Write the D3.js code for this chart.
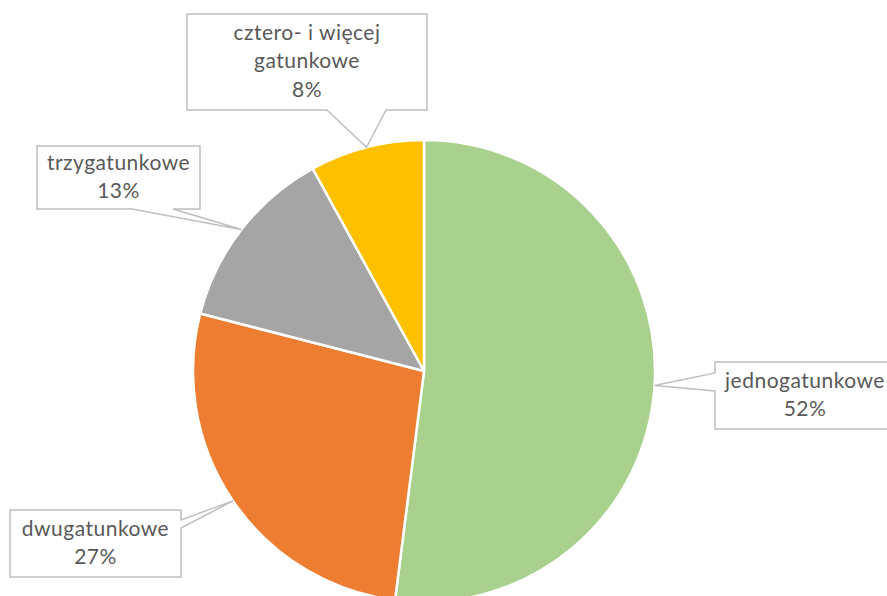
<!DOCTYPE html>
<html>
<head>
<meta charset="utf-8">
<script src="https://cdn.jsdelivr.net/npm/d3@7"></script>
<style>
  html, body { margin: 0; padding: 0; background: #fff; }
  svg { display: block; }
</style>
</head>
<body>
<svg id="chart" width="887" height="596"></svg>
<script>
// Share of stands by number of species
const categories = ["jednogatunkowe", "dwugatunkowe", "trzygatunkowe", "cztero- i więcej gatunkowe"];
const values = [52, 27, 13, 8];
const labelLines = [["jednogatunkowe"], ["dwugatunkowe"], ["trzygatunkowe"], ["cztero- i więcej", "gatunkowe"]];
const sliceColors = ["#a9d18e", "#ed7d31", "#a5a5a5", "#ffc000"];

// Callout boxes: box rectangle, the side the pointer leaves from and the pointer base span on that side
const callouts = [
  { x: 715, y: 362, w: 182, h: 67, side: "left", a: 373, b: 391 },
  { x: 10, y: 510, w: 171, h: 67, side: "right", a: 520, b: 528 },
  { x: 37, y: 146, w: 163, h: 63, side: "bottom", a: 132, b: 173 },
  { x: 187, y: 14, w: 240, h: 96, side: "bottom", a: 327, b: 386 }
];

const width = 887, height = 596;
const cx = 424, cy = 371, radius = 231;
const svg = d3.select("#chart");

const pie = d3.pie().sort(null).value(d => d)
  .startAngle(0).endAngle(2 * Math.PI);
const arcs = pie(values);

const arc = d3.arc().innerRadius(0).outerRadius(radius);

const g = svg.append("g").attr("transform", `translate(${cx},${cy})`);
g.selectAll("path.slice")
  .data(arcs)
  .join("path")
  .attr("class", "slice")
  .attr("d", arc)
  .attr("fill", (d, i) => sliceColors[i])
  .attr("stroke", "#fff")
  .attr("stroke-width", 2.5)
  .attr("stroke-linejoin", "round");

// Point on the pie rim at the middle angle of each slice
function rimPoint(d) {
  const m = (d.startAngle + d.endAngle) / 2;
  return [cx + radius * Math.sin(m), cy - radius * Math.cos(m)];
}

function calloutPath(c, tip) {
  const { x, y, w, h, side, a, b } = c;
  const [tx, ty] = tip;
  if (side === "bottom")
    return `M${x},${y}H${x + w}V${y + h}H${b}L${tx},${ty}L${a},${y + h}H${x}Z`;
  if (side === "left")
    return `M${x},${y}H${x + w}V${y + h}H${x}V${b}L${tx},${ty}L${x},${a}Z`;
  if (side === "right")
    return `M${x},${y}H${x + w}V${a}L${tx},${ty}L${x + w},${b}V${y + h}H${x}Z`;
  return `M${x},${y}H${x + w}V${y + h}H${x}Z`;
}

const fmt = d3.format(".0%");
const total = d3.sum(values);
const lineH = 28.5;

const labels = svg.selectAll("g.callout")
  .data(arcs)
  .join("g")
  .attr("class", "callout");

labels.append("path")
  .attr("d", (d, i) => calloutPath(callouts[i], rimPoint(d)))
  .attr("fill", "#fff")
  .attr("stroke", "#bfbfbf")
  .attr("stroke-width", 1.5)
  .attr("stroke-linejoin", "miter");

labels.each(function (d, i) {
  const c = callouts[i];
  const lines = labelLines[i].concat([fmt(d.value / total)]);
  const textCx = c.x + (i === 0 ? 90 : c.w / 2);
  const blockH = lines.length * lineH;
  const firstBase = c.y + (c.h - blockH) / 2 + lineH * 0.72;
  const t = d3.select(this).append("text")
    .attr("text-anchor", "middle")
    .attr("font-family", "Lato, 'Open Sans', sans-serif")
    .attr("font-size", 21)
    .attr("letter-spacing", 0.5)
    .attr("fill", "#595959");
  lines.forEach((ln, k) => {
    t.append("tspan")
      .attr("x", textCx)
      .attr("y", firstBase + k * lineH)
      .text(ln);
  });
});
</script>
</body>
</html>
